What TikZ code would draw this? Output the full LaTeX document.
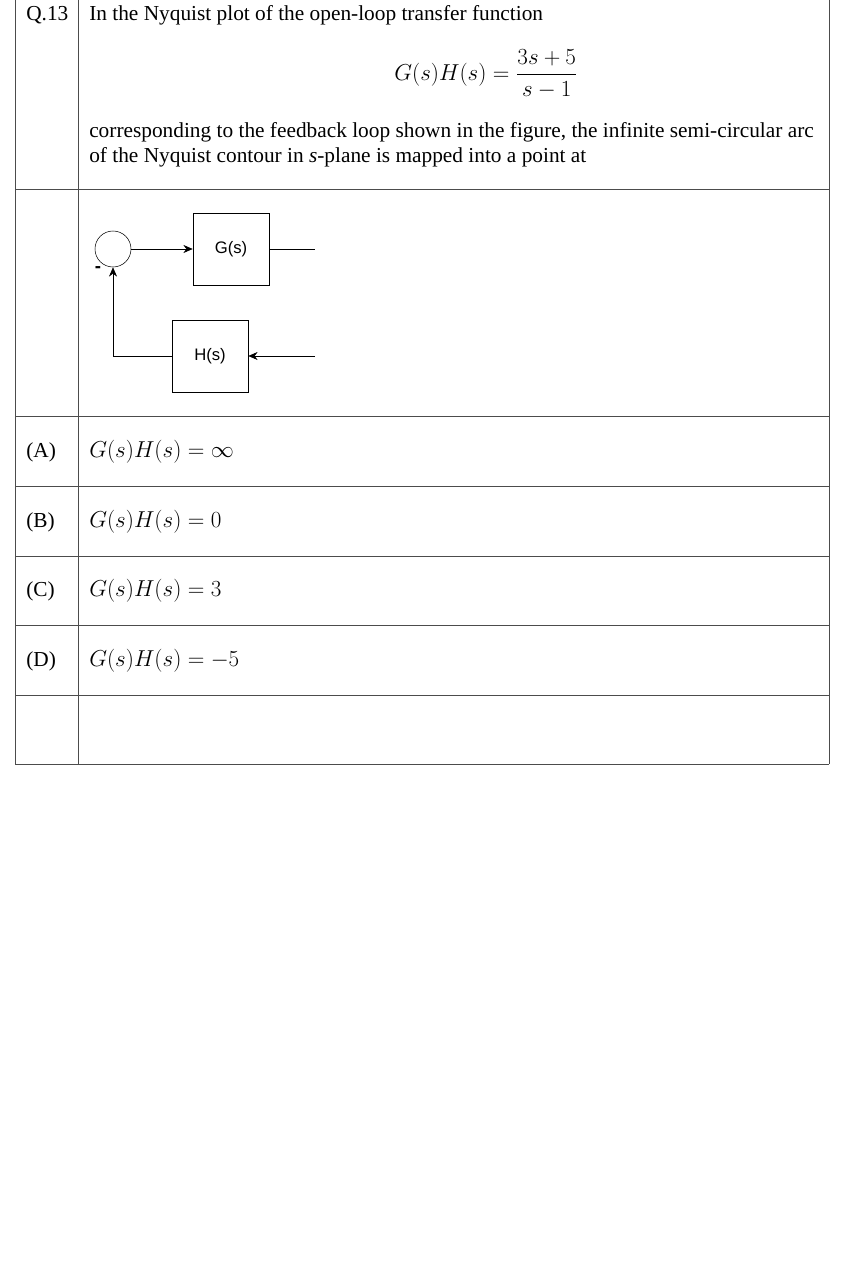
\documentclass[tikz,border=0pt]{standalone}
\usepackage{amsmath}
\usepackage{fontspec}
\setmainfont{Liberation Serif}
\newfontfamily\blocksans{Liberation Sans}
\usetikzlibrary{arrows.meta, positioning, calc}
\begin{document}
\begin{tikzpicture}[x=0.75pt, y=-0.75pt, >=Stealth,
    grid/.style = {draw=black!70, line width=0.5pt},
    block/.style = {rectangle, draw=black, minimum width=57pt, minimum height=54pt, font=\blocksans\fontsize{12.5}{15}\selectfont},
    sumjn/.style = {circle, draw=black, minimum size=27pt, inner sep=0pt},
    arrow/.style = {->, >={Stealth[length=7pt, width=6pt]}},
    txt/.style = {anchor=west, inner sep=0pt, font=\fontsize{16}{19}\selectfont}]
        \useasboundingbox (0,0) rectangle (840,1262);
        % Table
        \foreach \yy in {189,416,486,556,625,695,764}
            \draw [grid] (15,\yy) -- (829,\yy);
        \draw [grid] (15,0) -- (15,764);
        \draw [grid] (78,0) -- (78,764);
        \draw [grid] (829,0) -- (829,764);

        % Question
        \node [txt] at (26,15) {Q.13};
        \node [txt] at (89,15) {In the Nyquist plot of the open-loop transfer function};
        \node [font=\fontsize{16}{19}\selectfont] at (486,74) {$G(s)H(s)=\dfrac{3s+5}{s-1}$};
        \node [txt] at (89,132) {corresponding to the feedback loop shown in the figure, the infinite semi-circular arc};
        \node [txt] at (89,157) {of the Nyquist contour in \textit{s}-plane is mapped into a point at};

        % Block diagram
        \node (sum) [sumjn] at (113,249) {};
        \node (gblk) [block] at (231,249) {G(s)};
        \node (hblk) [block] at (210,356) {H(s)};
        \coordinate (gout) at (315,249);
        \coordinate (hin) at (315,356);
        \draw [arrow] (sum) -- (gblk);
        \draw (gblk) -- (gout);
        \draw [arrow] (hin) -- (hblk);
        \draw [arrow] (hblk.west) -| (sum.south);
        \node [font=\blocksans\fontsize{14}{16}\selectfont\bfseries] at (98,270) {-};

        % Options
        \node [txt] at (26,452) {(A)};
        \node [txt] at (89,452) {$G(s)H(s)=\infty$};
        \node [txt] at (26,522) {(B)};
        \node [txt] at (89,522) {$G(s)H(s)=0$};
        \node [txt] at (26,591) {(C)};
        \node [txt] at (89,591) {$G(s)H(s)=3$};
        \node [txt] at (26,661) {(D)};
        \node [txt] at (89,661) {$G(s)H(s)=-5$};
    \end{tikzpicture}
\end{document}
